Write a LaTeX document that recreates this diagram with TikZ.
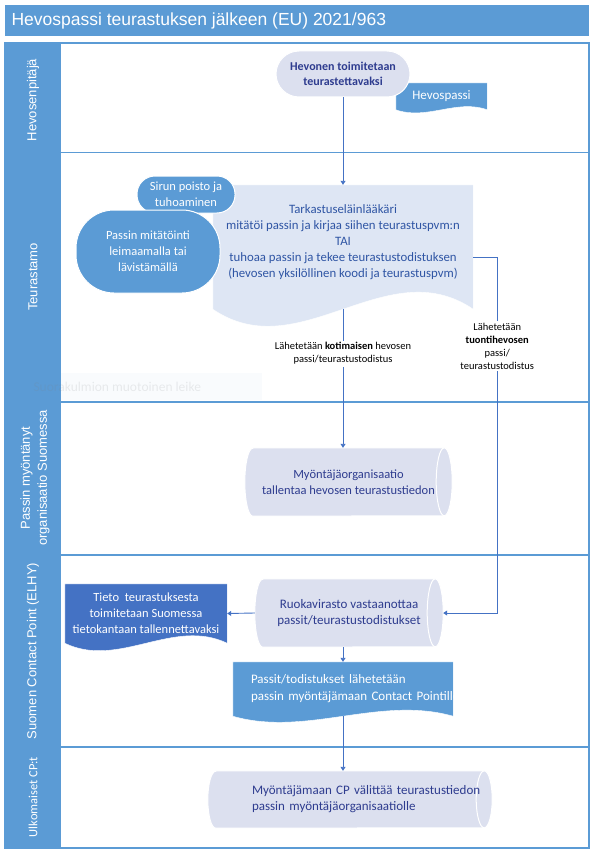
\documentclass[tikz,border=0pt]{standalone}
\usepackage{fontspec}
\setmainfont{Carlito}
\newfontfamily\arialfont{Liberation Sans}
\usetikzlibrary{arrows.meta,calc}
\definecolor{lanecol}{HTML}{5B9BD5}
\definecolor{darkdoc}{HTML}{4472C4}
\definecolor{lav}{HTML}{DCE0EF}
\definecolor{lightdoc}{HTML}{DEE6F4}
\definecolor{txtblue}{HTML}{2E3C8F}
\definecolor{insptxt}{HTML}{2F55A4}
\definecolor{linecol}{HTML}{4472C4}
\pgfdeclarelayer{background}
\pgfsetlayers{background,main}
\newcommand\docwave[3]{%
  \begin{pgfonlayer}{background}
  \fill[#2,draw=white] (#1.north west) -- (#1.north east) -- (#1.south east)
    .. controls ($(#1.south east)!.333!(#1.south west)+(0,-#3)$)
    and ($(#1.south east)!.667!(#1.south west)+(0,#3)$) .. (#1.south west) -- cycle;
  \end{pgfonlayer}}
\newcommand\storewave[3]{%
  \begin{pgfonlayer}{background}
  \fill[lav,draw=white,line width=1pt] (#1.north west) -- (#1.north east)
    arc[start angle=90,end angle=-90,x radius=#2pt,y radius=#3pt]
    -- (#1.south west) arc[start angle=270,end angle=90,x radius=#2pt,y radius=#3pt] -- cycle;
  \draw[white,line width=1pt] (#1.north east) arc[start angle=90,end angle=270,x radius=#2pt,y radius=#3pt];
  \end{pgfonlayer}}

\begin{document}
\begin{tikzpicture}[x=1pt,y=-1pt,
    lane/.style={rotate=90,text=white,align=center,font=\arialfont\fontsize{13}{17}\selectfont},
    box/.style={inner sep=0pt,align=center,font=\fontsize{12.5}{16}\selectfont},
    lavbox/.style={box,fill=lav,draw=white,line width=1pt,text=txtblue},
    bluebox/.style={box,fill=lanecol,draw=white,line width=1pt,text=white},
    doc/.style={box,text=white},
    store/.style={box,text=txtblue},
    flow/.style={draw=linecol,line width=.9pt,-{Triangle[length=4pt,width=5pt]}},
    lbl/.style={fill=white,inner sep=2pt,align=center,font=\fontsize{10.5}{13}\selectfont}]

    \useasboundingbox (0,0) rectangle (599,856);

    \begin{pgfonlayer}{background}
    \fill[lanecol] (5,5) rectangle (589,36);
    \fill[lanecol] (5,43) rectangle (61,848);
    \draw[lanecol,line width=1.5pt] (5,43) rectangle (589,848);
    \foreach \y in {152.5,402,555,747}
        \draw[lanecol,line width=1.5pt] (5,\y) -- (589,\y);
    \fill[lanecol,opacity=.04] (61,373) rectangle (262,400);
    \end{pgfonlayer}

    \node[anchor=west,text=white,font=\arialfont\fontsize{17.5}{20}\selectfont] (title) at (8,20.5) {Hevospassi teurastuksen jälkeen (EU) 2021/963};

    \node[lane] (l1) at (33,100) {Hevosenpitäjä};
    \node[lane] (l2) at (33,277) {Teurastamo};
    \node[lane] (l3) at (35,478) {Passin myöntänyt\\organisaatio Suomessa};
    \node[lane] (l4) at (33,651) {Suomen Contact Point (ELHY)};
    \node[lane,font=\fontsize{12.5}{15}\selectfont] (l5) at (33,797) {Ulkomaiset CP:t};

    \node[doc,minimum width=91,minimum height=26.5,font=\fontsize{13}{16}\selectfont] (pass) at (441.5,96.3) {Hevospassi};
    \docwave{pass}{lanecol}{11}
    \node[lavbox,rounded corners=23pt,minimum width=134,minimum height=46,font=\bfseries\fontsize{12}{15}\selectfont] (hevonen) at (343,74) {Hevonen toimitetaan\\teurastettavaksi};

    \node[box,minimum width=260,minimum height=124,
        label={[box,text=insptxt,yshift=5pt,font=\fontsize{12.8}{16}\selectfont]center:{Tarkastuseläinlääkäri\\mitätöi passin ja kirjaa siihen teurastuspvm:n\\TAI\\tuhoaa passin ja tekee teurastustodistuksen\\(hevosen yksilöllinen koodi ja teurastuspvm)}}] (insp) at (343,247) {};
    \docwave{insp}{lightdoc}{59}
    \node[bluebox,rounded corners=18pt,minimum width=98,minimum height=37] (siru) at (186,194.5) {Sirun poisto ja\\tuhoaminen};
    \node[bluebox,rounded corners=38pt,minimum width=144,minimum height=83] (mitatointi) at (148,251.5) {Passin mitätöinti\\leimaamalla tai\\lävistämällä};

    \node[store,minimum width=191,minimum height=68] (myorg) at (348.5,482) {Myöntäjäorganisaatio\\tallentaa hevosen teurastustiedon};
    \storewave{myorg}{8}{34}

    \node[store,minimum width=172,minimum height=68,font=\fontsize{13}{16}\selectfont] (ruoka) at (349,613) {Ruokavirasto vastaanottaa\\passit/teurastustodistukset};
    \storewave{ruoka}{8}{34}
    \node[doc,minimum width=162,minimum height=59] (tieto) at (146,613.5) {Tieto~ teurastuksesta\\toimitetaan Suomessa\\tietokantaan tallennettavaksi};
    \docwave{tieto}{darkdoc}{26}
    \node[doc,minimum width=220,minimum height=54,text width=184pt,align=left,font=\fontsize{13}{17}\selectfont] (passit) at (343,689) {\mbox{Passit/todistukset lähetetään}\\\mbox{passin myöntäjämaan Contact Pointille}};
    \docwave{passit}{lanecol}{21}

    \node[store,minimum width=268,minimum height=57,text width=196pt,align=left,font=\fontsize{13}{16}\selectfont] (cpmaa) at (350,799.5) {\mbox{Myöntäjämaan CP välittää teurastustiedon}\\\mbox{passin myöntäjäorganisaatiolle}};
    \storewave{cpmaa}{8}{28.5}

    \draw[flow] (hevonen) -- (insp);
    \draw[flow] (insp.south) -- node[lbl,pos=.32] (kotim) {Lähetetään \textbf{kotimaisen} hevosen\\passi/teurastustodistus} (insp.south |- myorg.north);
    \draw[flow] ([yshift=-10pt]insp.east) -- ++(24,0) |- node[lbl,pos=.125] (tuonti) {Lähetetään\\\textbf{tuontihevosen}\\passi/\\teurastustodistus} ([xshift=8pt]ruoka.east);
    \draw[flow] ([xshift=-8pt]ruoka.west) -- (tieto.east);
    \draw[flow] (ruoka.south -| passit.north) -- (passit.north);
    \draw[flow] (passit.south) -- (passit.south |- cpmaa.north);

    \node[anchor=west,text=black!50,opacity=.15,font=\fontsize{13.5}{16}\selectfont] (leike) at (30,387) {Suorakulmion muotoinen leike};
\end{tikzpicture}
\end{document}
